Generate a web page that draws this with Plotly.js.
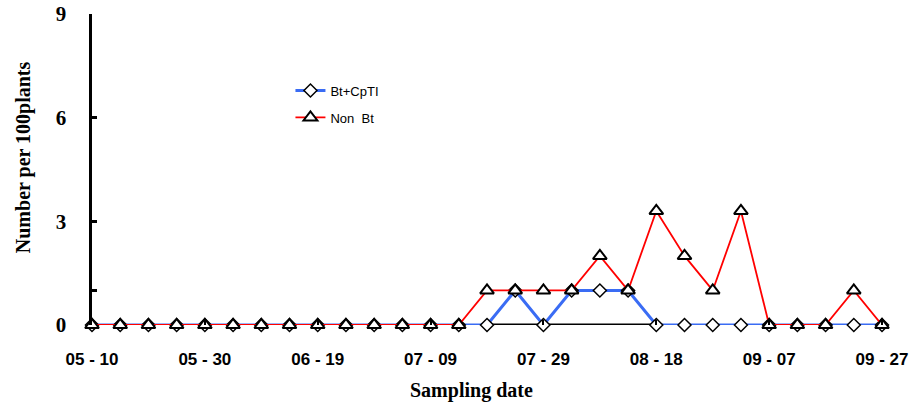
<!DOCTYPE html>
<html>
<head>
<meta charset="utf-8">
<script src="https://cdn.plot.ly/plotly-3.0.1.min.js"></script>
<style>html,body{margin:0;padding:0;background:#fff;}#chart{width:921px;height:407px;}</style>
</head>
<body>
<div id="chart"></div>
<script>
// Sampling dates (every 5 days)
const dates = ["05-10","05-15","05-20","05-25","05-30","06-04","06-09","06-14","06-19","06-24","06-29","07-04","07-09","07-14","07-19","07-24","07-29","08-03","08-08","08-13","08-18","08-23","08-28","09-02","09-07","09-12","09-17","09-22","09-27"];
// Number per 100 plants
const btCpTI = [0,0,0,0,0,0,0,0,0,0,0,0,0,0,0,1,0,1,1,1,0,0,0,0,0,0,0,0,0];
const nonBt  = [0,0,0,0,0,0,0,0,0,0,0,0,0,0,1,1,1,1,2,1,3.3,2,1,3.3,0,0,0,1,0];
const tickDates = ["05-10","05-30","06-19","07-09","07-29","08-18","09-07","09-27"];
const tickLabels = ["05 - 10","05 - 30","06 - 19","07 - 09","07 - 29","08 - 18","09 - 07","09 - 27"];
const yTickVals = [0,1,3,6,9];
const yTickText = ["0","","3","6","9"];
const seriesNames = ["Bt+CpTI","Non  Bt"];
const year = "2000-";

const toDate = d => year + d;
const xDates = dates.map(toDate);

const traces = [
  {x: xDates, y: btCpTI, name: seriesNames[0], legendgroup: "a", type: "scatter", mode: "lines+markers", cliponaxis: false,
   line: {color: "#3a6cf4", width: 3},
   marker: {symbol: "diamond", size: 10, color: "#ffffff", line: {color: "#000000", width: 1.5}}},
  {x: xDates, y: nonBt, name: seriesNames[1], legendgroup: "b", type: "scatter", mode: "lines+markers", cliponaxis: false,
   line: {color: "#ff0000", width: 1.8},
   marker: {symbol: "triangle-up", size: 12, color: "#ffffff", line: {color: "#000000", width: 2}}}
];

const layout = {
  width: 921, height: 407,
  margin: {l: 92, r: 19, t: 14, b: 82},
  paper_bgcolor: "#ffffff", plot_bgcolor: "#ffffff",
  showlegend: true,
  legend: {x: 0.245, y: 0.802, xanchor: "left", yanchor: "top", bgcolor: "rgba(0,0,0,0)",
           traceorder: "grouped", tracegroupgap: 7,
           font: {family: "Liberation Sans, Arial, sans-serif", size: 13, color: "#000"}},
  xaxis: {type: "date", range: ["2000-05-10", "2000-09-30 13:00"], showgrid: false, zeroline: false,
          showline: false, tickmode: "array", tickvals: tickDates.map(toDate), ticktext: tickLabels,
          ticks: "inside", ticklen: 5, tickwidth: 2, tickcolor: "#000",
          ticklabelstandoff: 22,
          tickfont: {family: "Liberation Sans, Arial, sans-serif", size: 17, color: "#000", weight: "bold"}},
  yaxis: {range: [0, 9], showgrid: false, zeroline: false, showline: true, linecolor: "#000", linewidth: 3.5,
          tickmode: "array", tickvals: yTickVals, ticktext: yTickText,
          ticks: "inside", ticklen: 5, tickwidth: 3, tickcolor: "#000",
          ticklabelstandoff: 18,
          tickfont: {family: "Liberation Serif, Times New Roman, serif", size: 21, color: "#000", weight: "bold"}},
  shapes: [
    {type: "line", xref: "x", yref: "y", x0: toDate("07-19"), x1: toDate("08-18"), y0: 0, y1: 0, layer: "below",
     line: {color: "#000", width: 3}}
  ],
  annotations: [
    {text: "Sampling date", xref: "paper", yref: "paper", x: 0.469, y: -0.21, xanchor: "center", yanchor: "middle",
     showarrow: false, font: {family: "Liberation Serif, Times New Roman, serif", size: 20, color: "#000", weight: "bold"}},
    {text: "Number per 100plants", xref: "paper", yref: "paper", x: -0.085, y: 0.54, xanchor: "center", yanchor: "middle",
     textangle: -90, showarrow: false,
     font: {family: "Liberation Serif, Times New Roman, serif", size: 20, color: "#000", weight: "bold"}}
  ]
};

Plotly.newPlot("chart", traces, layout, {displayModeBar: false, staticPlot: true});
</script>
</body>
</html>
